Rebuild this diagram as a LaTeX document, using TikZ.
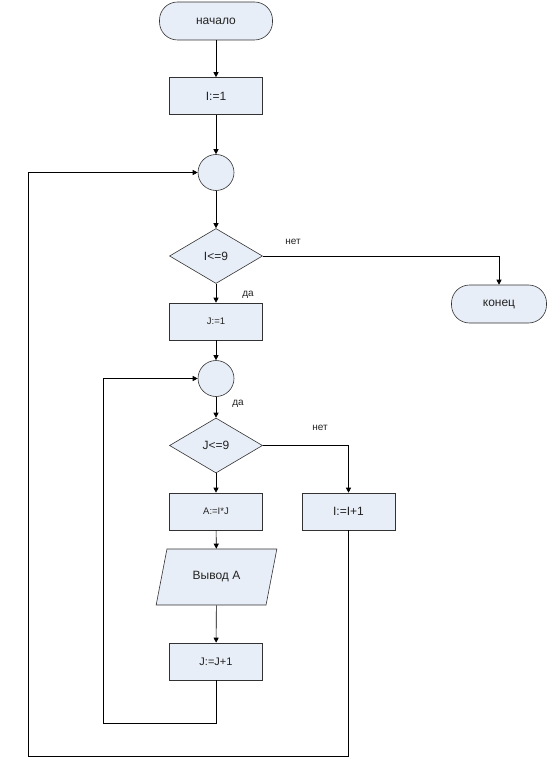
\documentclass[tikz,border=0pt]{standalone}
\usepackage{fontspec}
\setmainfont{Liberation Sans}
\usepackage{xcolor}
\usepackage{tikz}
\usetikzlibrary{shapes.geometric, arrows.meta, positioning, calc}
\definecolor{blockfill}{RGB}{232, 238, 247}
\definecolor{blockline}{RGB}{50, 50, 50}
\definecolor{textgray}{RGB}{35, 35, 35}

\tikzset{
    block/.style={draw=blockline, line width=0.6pt, fill=blockfill, text=textgray, inner sep=0pt,
        minimum width=93pt, minimum height=37pt, font=\fontsize{12}{14}\selectfont},
    terminal/.style={block, rounded corners=18pt, minimum height=38pt},
    joint/.style={block, circle, minimum size=36pt, minimum width=36pt},
    decision/.style={block, diamond, minimum width=93pt, minimum height=55pt},
    inout/.style={block, trapezium, trapezium left angle=64, trapezium right angle=116,
        trapezium stretches=true, minimum width=121pt, minimum height=56pt},
    flow/.style={draw=black, line width=0.6pt, -{Triangle[width=5pt,length=5pt]}},
    tag/.style={text=textgray, font=\fontsize{10}{12}\selectfont}
}

\begin{document}
\begin{tikzpicture}[x=1pt, y=-1pt]
    \useasboundingbox (0,0) rectangle (549,767);

    % outer loop over I
    \node[terminal, minimum width=113pt] (start) at (216,21) {начало};
    \node[block] (iset) at (216,96) {I:=1};
    \node[joint] (jointi) at (216,172.5) {};
    \node[decision] (condi) at (216,256) {I<=9};
    \node[terminal, minimum width=95pt] (finish) at (499,304) {конец};

    % inner loop over J
    \node[block, font=\fontsize{9.5}{11}\selectfont] (jset) at (216,321.5) {J:=1};
    \node[joint] (jointj) at (216,378.5) {};
    \node[decision] (condj) at (216,445.5) {J<=9};
    \node[block, font=\fontsize{9.5}{11}\selectfont] (mult) at (216,511.5) {A:=I*J};
    \node[block] (iinc) at (348.5,511.5) {I:=I+1};
    \node[inout] (output) at (216.5,577) {Вывод A};
    \node[block, font=\fontsize{11}{13}\selectfont] (jinc) at (216,661.5) {J:=J+1};

    % branch labels
    \node[tag] (noi) at (293,242) {нет};
    \node[tag] (yesi) at (248,295) {да};
    \node[tag] (yesj) at (238,404) {да};
    \node[tag] (noj) at (320,428) {нет};

    % return points of the loops
    \coordinate (backj) at (103,723);
    \coordinate (backi) at (28,756);

    % connectors
    \draw[flow] (start) -- (iset);
    \draw[flow] (iset) -- (jointi);
    \draw[flow] (jointi) -- (condi);
    \draw[flow] (condi.east) -| (finish.north);
    \draw[flow] (condi) -- (jset);
    \draw[flow] (jset) -- (jointj);
    \draw[flow] (jointj) -- (condj);
    \draw[flow] (condj.east) -| (iinc.north);
    \draw[flow] (condj) -- (mult);
    \draw[flow] (mult) -- (output);
    \draw[flow] (output) -- (jinc);
    \draw[flow] (jinc.south) |- (backj) |- (jointj.west);
    \draw[flow] (iinc.south) |- (backi) |- (jointi.west);
\end{tikzpicture}
\end{document}
